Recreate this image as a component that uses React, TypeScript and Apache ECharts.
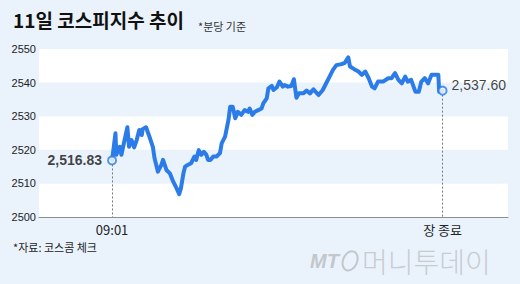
import React, { useEffect, useRef } from "react";
import * as echarts from "echarts";

// minutes since 09:01
const times = [
  0, 4, 5, 9, 11, 13, 18, 20, 23, 26, 29, 32, 35, 36, 40, 44, 48, 50, 54, 58,
  60, 64, 68, 72, 76, 79, 81, 84, 86, 89, 93, 97, 99, 102, 105, 108, 111, 113, 116, 119,
  123, 127, 129, 133, 137, 139, 142, 145, 148, 152, 156, 160, 162, 165, 168, 172, 176, 178, 182, 184,
  188, 190, 194, 197, 201, 203, 207, 211, 214, 217, 220, 225, 229, 233, 237, 243, 248, 252, 256, 260,
  264, 270, 274, 278, 280, 285, 290, 294, 298, 302, 306, 309, 313, 319, 325, 329, 333, 337, 341, 345,
  348, 352, 357, 361, 364, 368, 372, 376, 384, 385, 389,
];
const values = [
  2516.83, 2524.9, 2518.5, 2520.9, 2518.5, 2520.9, 2526.7, 2520.9, 2522.9, 2520.7,
  2522.9, 2525.9, 2524.4, 2526.1, 2526.7, 2523.9, 2520.9, 2517.5, 2513.5, 2515.5,
  2517.0, 2514.0, 2513.0, 2510.5, 2508.5, 2506.8, 2508.5, 2513.0, 2515.0, 2515.5,
  2516.0, 2518.0, 2517.0, 2519.9, 2518.5, 2519.4, 2518.5, 2517.0, 2517.0, 2518.0,
  2518.0, 2519.0, 2521.9, 2523.9, 2528.9, 2532.8, 2532.8, 2529.4, 2531.3, 2530.4,
  2531.8, 2531.3, 2532.3, 2530.4, 2531.3, 2531.8, 2532.3, 2533.8, 2535.3, 2538.3,
  2539.0, 2537.8, 2538.6, 2540.3, 2538.8, 2539.3, 2538.8, 2539.0, 2541.0, 2535.5,
  2536.8, 2536.8, 2537.6, 2536.8, 2538.0, 2536.3, 2537.8, 2539.8, 2541.8, 2543.8,
  2545.2, 2545.5, 2545.9, 2547.5, 2544.8, 2544.0, 2543.3, 2542.3, 2543.3, 2541.3,
  2538.8, 2538.3, 2540.3, 2540.3, 2541.3, 2541.3, 2542.8, 2540.8, 2539.8, 2541.8,
  2540.3, 2540.8, 2537.3, 2537.3, 2540.3, 2541.3, 2539.8, 2542.3, 2542.3, 2537.3,
  2537.6,
];
const xTickValues = [0, 389];
const xTickLabels = ["09:01", "장 종료"];
const yMin = 2500;
const yMax = 2550;
const yStep = 10;

const BLUE = "#2b7ce8";
const BG = "#eaf3fc";
const FONT = "'Liberation Sans', Arial, sans-serif";
const KFONT = "'Noto Sans CJK KR', 'Liberation Sans', sans-serif";

export default function App() {
  const ref = useRef<HTMLDivElement>(null);
  useEffect(() => {
    document.body.style.margin = "0";
    const chart = echarts.init(ref.current!, null, { renderer: "svg" });
    const last = times.length - 1;
    const fmt = (v: number) =>
      v.toLocaleString("en-US", { minimumFractionDigits: 2, maximumFractionDigits: 2 });
    chart.setOption({
      animation: false,
      backgroundColor: BG,
      grid: { left: 39, right: 12, top: 49, bottom: 67 },
      xAxis: {
        type: "value",
        min: -86,
        max: 466,
        axisLine: { show: true, lineStyle: { color: "#8a8f96", width: 1 } },
        axisTick: { show: false },
        splitLine: { show: false },
        axisLabel: {
          customValues: xTickValues,
          formatter: (v: number) => xTickLabels[xTickValues.indexOf(v)] ?? "",
          color: "#222",
          fontSize: 13,
          fontFamily: KFONT,
          margin: 6,
        },
      },
      yAxis: {
        type: "value",
        min: yMin,
        max: yMax,
        interval: yStep,
        axisLine: { show: false },
        axisTick: { show: false },
        splitLine: { show: false },
        splitArea: { show: true, areaStyle: { color: ["#ffffff", BG] } },
        axisLabel: {
          color: "#222",
          fontSize: 11,
          fontFamily: FONT,
          margin: 3,
          formatter: (v: number) => String(v),
        },
      },
      series: [
        {
          type: "line",
          data: times.map((t, i) => [t, values[i]]),
          showSymbol: false,
          lineStyle: { color: BLUE, width: 4, cap: "round", join: "round" },
          z: 2,
          markLine: {
            silent: true,
            symbol: "none",
            label: { show: false },
            lineStyle: { color: "#777", type: [2, 2], width: 1 },
            data: [
              [{ coord: [times[0], values[0]] }, { coord: [times[0], yMin] }],
              [{ coord: [times[last], values[last]] }, { coord: [times[last], yMin] }],
            ],
          },
        },
        {
          type: "scatter",
          z: 5,
          symbol: "circle",
          symbolSize: 8,
          itemStyle: { color: "#fff", borderColor: BLUE, borderWidth: 2 },
          data: [
            {
              value: [times[0], values[0]],
              label: {
                show: true,
                position: "left",
                distance: 5,
                formatter: () => fmt(values[0]),
                fontSize: 14,
                fontWeight: "bold",
                color: "#111",
                fontFamily: FONT,
              },
            },
            {
              value: [times[last], values[last]],
              label: {
                show: true,
                position: "right",
                distance: 4,
                offset: [0, -6],
                formatter: () => fmt(values[last]),
                fontSize: 14,
                color: "#111",
                fontFamily: FONT,
              },
            },
          ],
        },
      ],
      graphic: [
        {
          type: "text",
          left: 13,
          top: 10,
          style: { text: "11일 코스피지수 추이", font: `bold 19px ${KFONT}`, fill: "#111" },
        },
        {
          type: "text",
          left: 198,
          top: 20,
          style: { text: "*분당 기준", font: `11px ${KFONT}`, fill: "#333" },
        },
        {
          type: "text",
          left: 13,
          top: 241,
          style: { text: "*자료: 코스콤 체크", font: `11px ${KFONT}`, fill: "#222" },
        },
        {
          type: "text",
          left: 310,
          top: 251,
          style: { text: "MT", font: `italic bold 20px ${FONT}`, fill: "#c3c7cc" },
        },
        {
          type: "ellipse",
          shape: { cx: 350, cy: 261, rx: 7, ry: 10 },
          rotation: -0.4,
          originX: 350,
          originY: 261,
          style: { fill: "none", stroke: "#c3c7cc", lineWidth: 2 },
        },
        {
          type: "text",
          left: 362,
          top: 247,
          style: {
            text: "머니투데이",
            font: `300 28px ${KFONT}`,
            lineHeight: 28,
            fill: "#c8ccd1",
          },
        },
      ],
    });
    return () => chart.dispose();
  }, []);
  return <div ref={ref} style={{ width: 520, height: 284 }} />;
}
